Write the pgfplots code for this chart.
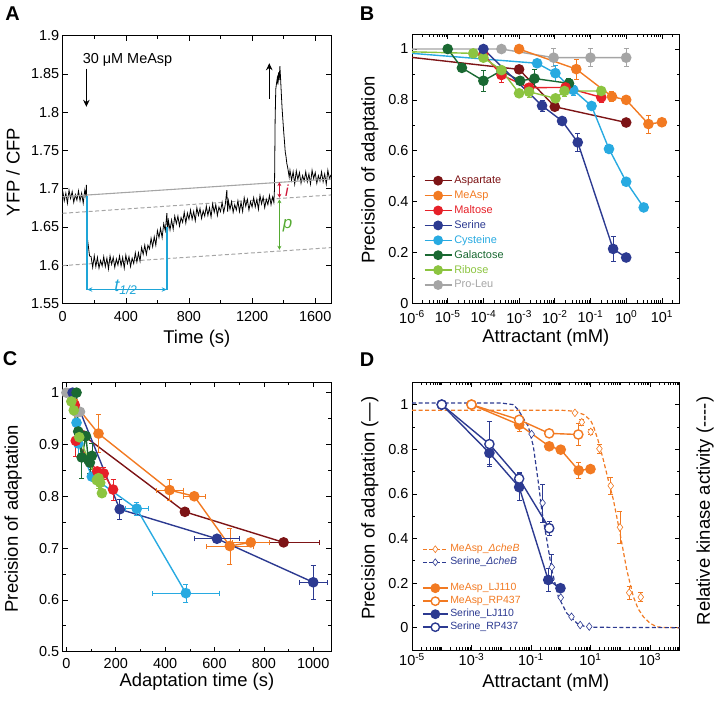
\documentclass[border=0pt]{standalone}
\usepackage{pgfplots}
\pgfplotsset{compat=1.18}
\usepackage{fontspec}
\setmainfont{Liberation Sans}
\usetikzlibrary{arrows.meta}

\definecolor{asp}{RGB}{125,20,22}
\definecolor{measp}{RGB}{242,122,34}
\definecolor{malt}{RGB}{230,32,40}
\definecolor{ser}{RGB}{44,58,145}
\definecolor{cys}{RGB}{40,170,225}
\definecolor{gal}{RGB}{26,105,50}
\definecolor{rib}{RGB}{140,196,64}
\definecolor{pro}{RGB}{165,165,165}
\definecolor{ianno}{RGB}{205,20,55}
\definecolor{panno}{RGB}{85,170,50}
\definecolor{thalf}{RGB}{30,165,215}

% minor ticks for the log axes
\def\logminors{}
\foreach \e in {-6,...,4}{\foreach \m in {2,...,9}{\xdef\logminors{\logminors\m e\e,}}}
\xdef\logminorsD{\logminors 1e-4,1e-2,1,1e2,1e4}
\xdef\logminors{\logminors 1e5}

\pgfplotsset{
  every axis/.append style={
    scale only axis, anchor=south west,
    axis line style={line width=0.9pt},
    every tick/.style={black, line width=0.6pt},
    major tick length=5bp, minor tick length=3bp,
    tick label style={font=\fontsize{14.5}{16}\selectfont},
    label style={font=\fontsize{18.5}{20}\selectfont},
    /pgf/number format/assume math mode=true,
    /pgf/number format/1000 sep={},
  },
  pt/.style={line width=1.4pt, mark=*, mark size=4.6bp, mark options={solid}},
  eb/.style={error bars/y dir=both, error bars/y explicit, error bars/x dir=both, error bars/x explicit,
    error bars/error bar style={line width=0.6pt, solid},
    error bars/error mark options={rotate=90, mark size=2.5bp, line width=0.6pt, solid}},
}

\begin{document}
\begin{tikzpicture}[x=1bp,y=1bp]
\useasboundingbox (0,0) rectangle (714,701);

% ---------------- A ----------------
\begin{axis}[at={(62.7bp,397.7bp)}, width=268.3bp, height=267.6bp,
  xmin=0, xmax=1700, ymin=1.55, ymax=1.9,
  xtick={0,400,800,1200,1600}, minor x tick num=1,
  xticklabel style={yshift=-5bp},
  ytick={1.55,1.6,1.65,1.7,1.75,1.8,1.85,1.9},
  yticklabels={1.55,1.6,1.65,1.7,1.75,1.8,1.85,1.9},
  xlabel={Time (s)}, ylabel={YFP / CFP},
  xlabel style={at={(axis description cs:0.5,-0.131)}, anchor=center},
  ylabel style={at={(axis description cs:-0.185,0.49)}, anchor=center}]
\addplot[pro, line width=1pt, dash pattern=on 4bp off 2.5bp] coordinates {(0,1.6677) (1700,1.6917)};
\addplot[pro, line width=1pt, dash pattern=on 4bp off 2.5bp] coordinates {(0,1.5993) (1700,1.6228)};
\addplot[black, line width=0.8pt] coordinates {
(0,1.697) (10,1.684) (20,1.694) (30,1.681) (40,1.698) (50,1.687) (60,1.696) (70,1.682)
(80,1.692) (90,1.685) (100,1.697) (110,1.684) (120,1.694) (130,1.681) (140,1.698) (147,1.690)
(150,1.705) (153,1.640) (160,1.629) (170,1.612) (180,1.611) (190,1.597) (200,1.612) (210,1.598)
(220,1.610) (230,1.596) (240,1.606) (250,1.599) (260,1.611) (270,1.598) (280,1.609) (290,1.595)
(300,1.612) (310,1.601) (320,1.610) (330,1.597) (340,1.608) (350,1.600) (360,1.612) (370,1.599)
(380,1.610) (390,1.596) (400,1.613) (410,1.602) (420,1.611) (430,1.598) (440,1.609) (450,1.602)
(460,1.616) (470,1.604) (480,1.616) (490,1.605) (500,1.623) (510,1.614) (520,1.626) (530,1.614)
(540,1.626) (550,1.621) (560,1.635) (570,1.624) (580,1.637) (590,1.626) (600,1.645) (610,1.636)
(620,1.648) (630,1.636) (640,1.654) (650,1.645) (655,1.656) (660,1.668) (665,1.645) (670,1.658)
(680,1.646) (690,1.659) (700,1.647) (710,1.664) (720,1.654) (730,1.664) (740,1.651) (750,1.662)
(760,1.656) (770,1.669) (780,1.655) (790,1.668) (800,1.660) (810,1.672) (820,1.660) (830,1.670)
(840,1.658) (850,1.675) (860,1.665) (870,1.674) (880,1.661) (890,1.671) (900,1.664) (910,1.677)
(920,1.665) (930,1.675) (940,1.663) (950,1.680) (960,1.669) (970,1.679) (980,1.665) (990,1.676)
(1000,1.670) (1010,1.682) (1020,1.669) (1030,1.679) (1040,1.698) (1045,1.670) (1050,1.684) (1060,1.673)
(1070,1.683) (1080,1.669) (1090,1.679) (1100,1.672) (1110,1.684) (1120,1.670) (1130,1.682) (1140,1.670)
(1150,1.688) (1160,1.677) (1170,1.686) (1180,1.672) (1190,1.683) (1200,1.676) (1210,1.688) (1220,1.676)
(1230,1.686) (1240,1.673) (1250,1.691) (1260,1.680) (1270,1.689) (1280,1.675) (1290,1.686) (1300,1.679)
(1310,1.691) (1320,1.679) (1330,1.689) (1338,1.682) (1342,1.700) (1346,1.790) (1350,1.830) (1355,1.838)
(1360,1.845) (1364,1.836) (1368,1.852) (1372,1.842) (1376,1.860) (1380,1.846) (1385,1.825) (1390,1.805)
(1395,1.790) (1400,1.775) (1405,1.762) (1410,1.748) (1415,1.742) (1420,1.733) (1425,1.728) (1430,1.722)
(1435,1.715) (1440,1.724) (1450,1.711) (1460,1.722) (1470,1.706) (1480,1.723) (1490,1.712) (1500,1.721)
(1510,1.707) (1520,1.717) (1530,1.710) (1540,1.722) (1550,1.709) (1560,1.719) (1570,1.706) (1580,1.724)
(1590,1.713) (1600,1.721) (1610,1.707) (1620,1.717) (1630,1.710) (1640,1.722) (1650,1.709) (1660,1.719)
(1670,1.706) (1680,1.724) (1690,1.713) (1700,1.718)};
\addplot[pro, line width=1.1pt] coordinates {(0,1.6895) (1700,1.7126)};
\addplot[thalf, line width=1.2pt] coordinates {(154,1.69) (154,1.568)};
\addplot[thalf, line width=1.2pt] coordinates {(661,1.650) (661,1.568)};
\addplot[thalf, line width=1.2pt, {Stealth[length=5bp,width=4.5bp]}-{Stealth[length=5bp,width=4.5bp]}] coordinates {(156,1.568) (659,1.568)};
\addplot[ianno, line width=1.2pt, {Stealth[length=4bp,width=4bp]}-{Stealth[length=4bp,width=4bp]}] coordinates {(1373,1.7085) (1373,1.688)};
\addplot[panno, line width=1.2pt, {Stealth[length=4bp,width=4bp]}-{Stealth[length=4bp,width=4bp]}] coordinates {(1373,1.686) (1373,1.620)};
\addplot[black, line width=1.4pt, -{Stealth[length=7bp,width=6.5bp]}] coordinates {(150,1.857) (150,1.807)};
\addplot[black, line width=1.4pt, -{Stealth[length=7bp,width=6.5bp]}] coordinates {(1309,1.817) (1309,1.864)};
\node[anchor=west, font=\fontsize{14.5}{16}\selectfont] at (axis cs:105,1.868) {30 μM MeAsp};
\node[text=thalf, font=\fontsize{18}{20}\selectfont\itshape] at (axis cs:400,1.571) {t\textsubscript{1/2}};
\node[text=ianno, font=\fontsize{16}{18}\selectfont\itshape] at (axis cs:1420,1.697) {i};
\node[text=panno, font=\fontsize{17}{19}\selectfont\itshape] at (axis cs:1425,1.652) {p};
\end{axis}

% ---------------- B ----------------
\begin{axis}[at={(412bp,397.7bp)}, width=267.7bp, height=269bp,
  xmode=log, xmin=1e-6, xmax=31.6, ymin=0, ymax=1.058,
  xtick={1e-6,1e-5,1e-4,1e-3,1e-2,1e-1,1,10},
  xticklabels={10\textsuperscript{-6},10\textsuperscript{-5},10\textsuperscript{-4},10\textsuperscript{-3},10\textsuperscript{-2},10\textsuperscript{-1},10\textsuperscript{0},10\textsuperscript{1}},
  xticklabel style={yshift=-4bp},
  minor xtick/.expanded={\logminors},
  ytick={0,0.2,0.4,0.6,0.8,1}, minor y tick num=1,
  xlabel={Attractant (mM)}, ylabel={Precision of adaptation},
  xlabel style={at={(axis description cs:0.5,-0.127)}, anchor=center},
  ylabel style={at={(axis description cs:-0.157,0.495)}, anchor=center},
  legend image code/.code={\draw[mark repeat=2,mark phase=2,#1] plot coordinates {(0bp,0bp) (13.5bp,0bp) (27bp,0bp)};},
  legend style={at={(0.0437,0.4825)}, anchor=north west, draw=none, fill=none, inner sep=0pt,
    row sep=0.9bp, font=\fontsize{11}{12}\selectfont,
    nodes={inner sep=2bp, text height=8bp, text depth=2bp}},
  legend cell align=left]
\addplot[pro, pt, mark indices={2,3,4,5}, forget plot, eb] coordinates {
 (1e-6,1.0) +- (0,0) (3.2e-4,1.0) +- (0,0) (0.0093,0.966) +- (0,0.035) (0.1,0.966) +- (0,0.035) (1,0.966) +- (0,0.035)};
\addplot[asp, pt, mark indices={2,3,4}, forget plot] coordinates {
 (1e-6,0.967) (1e-3,0.920) (0.01,0.773) (1,0.711)};
\addplot[cys, pt, mark indices={2,3,4,5,6,7,8}, forget plot, eb] coordinates {
 (1e-6,0.983) +- (0,0) (3.2e-3,0.944) +- (0,0) (0.0104,0.905) +- (0,0.03) (0.033,0.839) +- (0,0.02)
 (0.107,0.776) +- (0,0) (0.33,0.607) +- (0,0) (1,0.478) +- (0,0) (3.1,0.377) +- (0,0)};
\addplot[gal, pt, forget plot, eb] coordinates {
 (1e-5,1.0) +- (0,0) (2.5e-5,0.926) +- (0,0) (1e-4,0.875) +- (0,0.04) (3.2e-4,0.915) +- (0,0)
 (1.07e-3,0.875) +- (0,0) (2.7e-3,0.884) +- (0,0.035) (0.025,0.865) +- (0,0.02)};
\addplot[malt, pt, forget plot, eb] coordinates {
 (1e-4,0.98) +- (0,0) (3.2e-4,0.898) +- (0,0.03) (1.9e-3,0.848) +- (0,0) (0.02,0.849) +- (0,0.015) (0.2,0.81) +- (0,0.02)};
\addplot[rib, pt, mark indices={2,3,4,5,6,7,8,9}, forget plot, eb] coordinates {
 (1e-6,0.989) +- (0,0) (5.2e-5,0.983) +- (0,0) (1e-4,0.966) +- (0,0) (3.2e-4,0.917) +- (0,0)
 (1e-3,0.826) +- (0,0) (1.9e-3,0.832) +- (0,0.02) (0.0105,0.806) +- (0,0) (0.0186,0.835) +- (0,0.02) (0.2,0.835) +- (0,0)};
\addplot[measp, pt, forget plot, eb] coordinates {
 (1e-3,1.0) +- (0,0) (0.04,0.921) +- (0,0.04) (0.4,0.813) +- (0,0.02) (1,0.80) +- (0,0) (4.2,0.705) +- (0,0.035) (10,0.712) +- (0,0)};
\addplot[ser, pt, forget plot, eb] coordinates {
 (1e-4,1.0) +- (0,0) (4.4e-3,0.777) +- (0,0.02) (0.016,0.717) +- (0,0) (0.044,0.633) +- (0,0.035) (0.43,0.214) +- (0,0.05) (1,0.18) +- (0,0)};
\addlegendimage{asp, line width=1.4pt, mark=*, mark size=4.2bp}
\addlegendentry{\textcolor{asp}{Aspartate}}
\addlegendimage{measp, line width=1.4pt, mark=*, mark size=4.2bp}
\addlegendentry{\textcolor{measp}{MeAsp}}
\addlegendimage{malt, line width=1.4pt, mark=*, mark size=4.2bp}
\addlegendentry{\textcolor{malt}{Maltose}}
\addlegendimage{ser, line width=1.4pt, mark=*, mark size=4.2bp}
\addlegendentry{\textcolor{ser}{Serine}}
\addlegendimage{cys, line width=1.4pt, mark=*, mark size=4.2bp}
\addlegendentry{\textcolor{cys}{Cysteine}}
\addlegendimage{gal, line width=1.4pt, mark=*, mark size=4.2bp}
\addlegendentry{\textcolor{gal}{Galactose}}
\addlegendimage{rib, line width=1.4pt, mark=*, mark size=4.2bp}
\addlegendentry{\textcolor{rib}{Ribose}}
\addlegendimage{pro, line width=1.4pt, mark=*, mark size=4.2bp}
\addlegendentry{\textcolor{pro}{Pro-Leu}}
\end{axis}

% ---------------- C ----------------
\begin{axis}[at={(62.7bp,49.3bp)}, width=268.3bp, height=269.4bp,
  xmin=-15, xmax=1072, ymin=0.5, ymax=1.02,
  xtick={0,200,400,600,800,1000}, minor x tick num=1,
  xticklabel style={yshift=-3bp},
  ytick={0.5,0.6,0.7,0.8,0.9,1}, minor y tick num=1,
  xlabel={Adaptation time (s)}, ylabel={Precision of adaptation},
  xlabel style={at={(axis description cs:0.5,-0.111)}, anchor=center},
  ylabel style={at={(axis description cs:-0.185,0.494)}, anchor=center}]
\addplot[pro, pt, eb] coordinates {(0,1.0) +- (0,0) (40,0.963) +- (0,0) (50,0.963) +- (0,0) (55,0.963) +- (0,0)};
\addplot[asp, pt, eb] coordinates {(70,0.917) +- (0,0) (480,0.770) +- (0,0) (880,0.711) +- (145,0)};
\addplot[measp, pt, eb] coordinates {(30,0.98) +- (0,0) (130,0.921) +- (0,0.037) (418,0.812) +- (55,0.02)
 (518,0.80) +- (44,0) (662,0.704) +- (95,0.035) (747,0.711) +- (75,0)};
\addplot[ser, pt, eb] coordinates {(25,1.0) +- (0,0) (216,0.775) +- (0,0.02) (610,0.718) +- (90,0) (1000,0.634) +- (55,0.033)};
\addplot[cys, pt, eb] coordinates {(41,0.942) +- (0,0) (48,0.902) +- (0,0.025) (103,0.838) +- (0,0) (285,0.776) +- (45,0.012) (484,0.613) +- (135,0.018)};
\addplot[malt, pt, eb] coordinates {(34,0.976) +- (0,0) (38,0.907) +- (0,0.03) (125,0.848) +- (0,0) (151,0.844) +- (0,0.012) (189,0.813) +- (0,0.02)};
\addplot[gal, pt, eb] coordinates {(41,1.0) +- (0,0) (48,0.925) +- (0,0) (62,0.875) +- (0,0.04) (79,0.916) +- (0,0)
 (89,0.870) +- (0,0) (103,0.878) +- (0,0.025) (95,0.865) +- (0,0.02)};
\addplot[rib, pt, eb] coordinates {(20,0.983) +- (0,0) (30,0.966) +- (0,0) (52,0.914) +- (0,0) (123,0.831) +- (0,0)
 (130,0.835) +- (0,0.02) (137,0.826) +- (0,0.02) (144,0.806) +- (0,0)};
\end{axis}

% ---------------- D ----------------
\begin{axis}[at={(412bp,51bp)}, width=267.7bp, height=267.7bp,
  xmode=log, xmin=1e-5, xmax=1e4, ymin=-0.1, ymax=1.1,
  xtick={1e-5,1e-3,1e-1,10,1e3},
  xticklabels={10\textsuperscript{-5},10\textsuperscript{-3},10\textsuperscript{-1},10\textsuperscript{1},10\textsuperscript{3}},
  minor xtick/.expanded={\logminorsD},
  ytick={0,0.2,0.4,0.6,0.8,1}, minor y tick num=1,
  xlabel={Attractant (mM)}, ylabel={Precision of adaptation (—)},
  xlabel style={at={(axis description cs:0.5,-0.124)}, anchor=center},
  ylabel style={at={(axis description cs:-0.157,0.53)}, anchor=center},
  legend image code/.code={\draw[mark repeat=2,mark phase=2,#1] plot coordinates {(0bp,0bp) (12.5bp,0bp) (25bp,0bp)};},
  legend style={at={(0.037,0.4016)}, anchor=north west, draw=none, fill=none, inner sep=0pt,
    row sep=0bp, font=\fontsize{10.5}{12}\selectfont,
    nodes={inner sep=1.75bp, text height=7.5bp, text depth=2bp}},
  legend cell align=left]
\addplot[measp, line width=1.2pt, dash pattern=on 4bp off 2.5bp, forget plot] coordinates {
 (1e-5,0.975) (1,0.975) (3,0.97) (6,0.955) (10,0.93) (12.6,0.903) (18,0.84) (27,0.753) (40,0.66)
 (59,0.573) (98,0.424) (166,0.259) (276,0.139) (400,0.085) (600,0.049) (1000,0.02) (1690,0.004) (3000,0.001) (1e4,0)};
\addplot[ser, line width=1.2pt, dash pattern=on 4bp off 2.5bp, forget plot] coordinates {
 (1e-5,1.007) (0.01,1.007) (0.025,1.0) (0.037,0.977) (0.081,0.903) (0.12,0.813) (0.178,0.648) (0.23,0.528)
 (0.34,0.394) (0.5,0.259) (0.83,0.139) (1.6,0.065) (3.5,0.02) (7.4,0.002) (1e4,0)};
\addplot[measp, only marks, mark=diamond*, mark size=3.8bp, mark options={fill=white, line width=0.6pt}, forget plot, eb] coordinates {
 (3.0,0.963) +- (0,0) (5.1,0.921) +- (0,0.015) (10.2,0.878) +- (0,0.01) (20,0.802) +- (0,0.02) (48,0.636) +- (0,0.04)
 (98,0.45) +- (0,0.07) (200,0.157) +- (0,0.03) (490,0.137) +- (0,0.02)};
\addplot[ser, only marks, mark=diamond*, mark size=3.8bp, mark options={fill=white, line width=0.6pt}, forget plot, eb] coordinates {
 (0.105,0.868) +- (0,0) (0.245,0.559) +- (0,0.085) (0.50,0.271) +- (0,0.06) (1.0,0.135) +- (0,0)
 (2.3,0.049) +- (0,0) (4.5,0.012) +- (0,0) (9.1,0.005) +- (0,0)};
\addplot[measp, pt, forget plot, eb] coordinates {
 (1e-3,1.0) +- (0,0) (0.04,0.91) +- (0,0.03) (0.41,0.813) +- (0,0) (1.0,0.798) +- (0,0) (4,0.705) +- (0,0.035) (10,0.711) +- (0,0)};
\addplot[measp, pt, mark options={fill=white}, forget plot, eb] coordinates {
 (1e-3,1.0) +- (0,0) (0.04,0.932) +- (0,0.02) (0.41,0.871) +- (0,0) (3.9,0.866) +- (0,0.05)};
\addplot[ser, pt, forget plot, eb] coordinates {
 (1e-4,1.0) +- (0,0) (4e-3,0.783) +- (0,0.05) (0.04,0.630) +- (0,0.06) (0.38,0.214) +- (0,0.05) (0.98,0.177) +- (0,0)};
\addplot[ser, pt, mark options={fill=white}, forget plot, eb] coordinates {
 (1e-4,1.0) +- (0,0) (4e-3,0.823) +- (0,0.1) (0.04,0.668) +- (0,0.03) (0.41,0.446) +- (0,0.03)};
\addlegendimage{measp, line width=1.1pt, dash pattern=on 4bp off 2.5bp, mark=diamond*, mark size=3.4bp, mark options={solid, fill=white, line width=0.6pt}}
\addlegendentry{\textcolor{measp}{MeAsp\_{\itshape ΔcheB}}}
\addlegendimage{ser, line width=1.1pt, dash pattern=on 4bp off 2.5bp, mark=diamond*, mark size=3.4bp, mark options={solid, fill=white, line width=0.6pt}}
\addlegendentry{\textcolor{ser}{Serine\_{\itshape ΔcheB}}}
\addlegendimage{empty legend}
\addlegendentry{}
\addlegendimage{measp, line width=1.4pt, mark=*, mark size=4.2bp}
\addlegendentry{\textcolor{measp}{MeAsp\_LJ110}}
\addlegendimage{measp, line width=1.4pt, mark=*, mark size=4.2bp, mark options={fill=white}}
\addlegendentry{\textcolor{measp}{MeAsp\_RP437}}
\addlegendimage{ser, line width=1.4pt, mark=*, mark size=4.2bp}
\addlegendentry{\textcolor{ser}{Serine\_LJ110}}
\addlegendimage{ser, line width=1.4pt, mark=*, mark size=4.2bp, mark options={fill=white}}
\addlegendentry{\textcolor{ser}{Serine\_RP437}}
\end{axis}

\node[rotate=90, font=\fontsize{18.5}{20}\selectfont] at (705,190) {Relative kinase activity (-{}-{}-{}-)};
\node[font=\fontsize{20}{22}\bfseries] at (12.5,687.5) {A};
\node[font=\fontsize{20}{22}\bfseries] at (367,687.5) {B};
\node[font=\fontsize{20}{22}\bfseries] at (10,342.5) {C};
\node[font=\fontsize{20}{22}\bfseries] at (367,341) {D};
\end{tikzpicture}
\end{document}
